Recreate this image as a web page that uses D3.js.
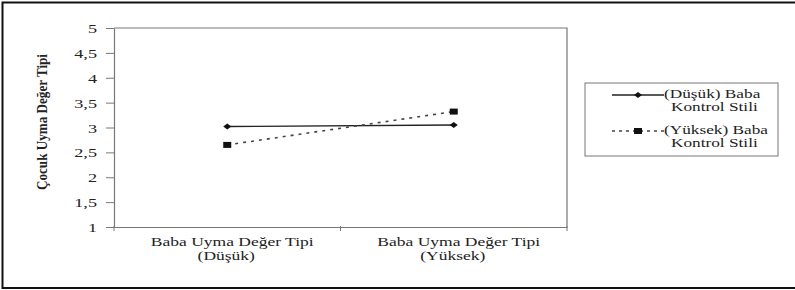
<!DOCTYPE html>
<html>
<head>
<meta charset="UTF-8">
<title>Etkileşim</title>
<script src="https://cdn.jsdelivr.net/npm/d3@7/dist/d3.min.js"></script>
<style>
body { margin:0; background:#fff; }
text { font-family: "Liberation Serif", "DejaVu Serif", serif; fill:#222; }
</style>
</head>
<body>
<svg id="chart" width="795" height="290"></svg>
<script>
// data
var categories = ["Baba Uyma Değer Tipi|(Düşük)", "Baba Uyma Değer Tipi|(Yüksek)"];
var dusuk = [3.02, 3.05];   // (Düşük) Baba Kontrol Stili
var yuksek = [2.65, 3.32];  // (Yüksek) Baba Kontrol Stili
var yTicks = [1, 1.5, 2, 2.5, 3, 3.5, 4, 4.5, 5];
var legendLabels = ["(Düşük) Baba|Kontrol Stili", "(Yüksek) Baba|Kontrol Stili"];

var svg = d3.select("#chart");
var fmt = function(d) { return String(d).replace(".", ","); };
// the source picture is stretched sideways, so widen the glyphs a bit
var stretch = function(sel, k) {
  sel.each(function() {
    var w = this.getComputedTextLength();
    d3.select(this).attr("textLength", w * k).attr("lengthAdjust", "spacingAndGlyphs");
  });
};

// outer frame
svg.append("path").attr("d", "M795,2.5 H2.5 V288 H795")
   .attr("fill", "none").attr("stroke", "#111").attr("stroke-width", 2);

var x0 = 114, x1 = 567, yTop = 28, yBot = 227;
var x = d3.scaleBand().domain(d3.range(categories.length)).range([x0, x1]);
var y = d3.scaleLinear().domain([1, 5]).range([yBot, yTop]);

// plot frame top/right
svg.append("path").attr("d", "M" + x0 + "," + yTop + " H" + x1 + " V" + yBot)
   .attr("fill", "none").attr("stroke", "#777").attr("stroke-width", 1.2);

// y axis
var ya = svg.append("g").attr("transform", "translate(" + x0 + ",0)")
  .call(d3.axisLeft(y).tickValues(yTicks).tickFormat(fmt).tickSize(8).tickSizeOuter(0));
ya.select(".domain").attr("stroke", "#777").attr("stroke-width", 1.2);
ya.selectAll(".tick line").attr("stroke", "#777");
ya.selectAll(".tick text").attr("x", -17).attr("dy", "0.35em")
  .style("font-size", "13px").style("font-family", "Liberation Serif").attr("fill", "#333")
  .call(stretch, 1.4);

// x axis
var xa = svg.append("g").attr("transform", "translate(0," + yBot + ")")
  .call(d3.axisBottom(x).tickSize(0).tickFormat(""));
xa.select(".domain").attr("stroke", "#777").attr("stroke-width", 1.2);
var bounds = [x0].concat(categories.map(function(d, i) { return x(i) + x.bandwidth(); }));
svg.selectAll(".xtick").data(bounds).enter().append("line")
   .attr("x1", function(d) { return d; }).attr("x2", function(d) { return d; })
   .attr("y1", yBot - 1).attr("y2", yBot + 4).attr("stroke", "#777");

var cx = function(i) { return x(i) + x.bandwidth() / 2; };
categories.forEach(function(c, i) {
  var parts = c.split("|");
  svg.append("text").attr("text-anchor", "middle").style("font-size", "12.5px")
     .attr("x", cx(i) + 5).attr("y", 246).text(parts[0]).call(stretch, 1.4);
  svg.append("text").attr("text-anchor", "middle").style("font-size", "12.5px")
     .attr("x", cx(i) - 1).attr("y", 260).text(parts[1]).call(stretch, 1.4);
});

// y title
svg.append("text").attr("transform", "translate(47,122) rotate(-90)")
   .attr("text-anchor", "middle").style("font-size", "15px").style("font-weight", "bold")
   .attr("textLength", 136).attr("lengthAdjust", "spacingAndGlyphs")
   .text("Çocuk Uyma Değer Tipi");

var line = d3.line().x(function(d, i) { return cx(i); }).y(function(d) { return y(d); });

svg.append("path").attr("d", line(dusuk)).attr("fill", "none")
   .attr("stroke", "#222").attr("stroke-width", 1.3);
svg.append("path").attr("d", line(yuksek)).attr("fill", "none")
   .attr("stroke", "#444").attr("stroke-width", 1.6).attr("stroke-dasharray", "3,5");

var diamond = function(g, px, py) {
  g.append("path").attr("d", "M" + (px - 4) + "," + py + " L" + px + "," + (py - 3) +
    " L" + (px + 4) + "," + py + " L" + px + "," + (py + 3) + "Z").attr("fill", "#111");
};
var square = function(g, px, py) {
  g.append("rect").attr("x", px - 4).attr("y", py - 3).attr("width", 8).attr("height", 6).attr("fill", "#111");
};
dusuk.forEach(function(v, i) { diamond(svg, cx(i), y(v)); });
yuksek.forEach(function(v, i) { square(svg, cx(i), y(v)); });

// legend
var lg = svg.append("g");
lg.append("rect").attr("x", 585).attr("y", 83).attr("width", 193).attr("height", 73)
  .attr("fill", "#fff").attr("stroke", "#777").attr("stroke-width", 1);
var ly = [95, 131];
lg.append("line").attr("x1", 612).attr("x2", 664).attr("y1", ly[0]).attr("y2", ly[0])
  .attr("stroke", "#222").attr("stroke-width", 1.3);
diamond(lg, 638, ly[0]);
lg.append("line").attr("x1", 612).attr("x2", 664).attr("y1", ly[1]).attr("y2", ly[1])
  .attr("stroke", "#444").attr("stroke-width", 1.6).attr("stroke-dasharray", "3,4");
square(lg, 638, ly[1]);
legendLabels.forEach(function(l, i) {
  var parts = l.split("|");
  lg.append("text").attr("x", 664).attr("y", ly[i] + 3).style("font-size", "12.5px")
    .text(parts[0]).call(stretch, 1.38);
  lg.append("text").attr("x", 671).attr("y", ly[i] + 16).style("font-size", "12.5px")
    .text(parts[1]).call(stretch, 1.38);
});
</script>
</body>
</html>
